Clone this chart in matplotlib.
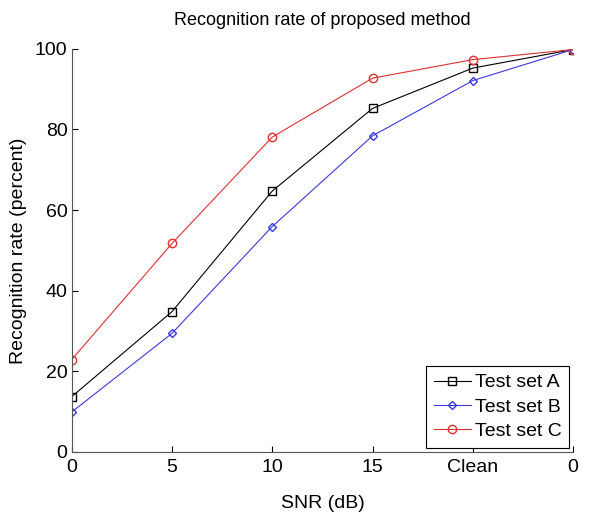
import matplotlib
matplotlib.use("Agg")
import matplotlib.pyplot as plt

plt.rcParams['font.family'] = ['Liberation Sans', 'DejaVu Sans']

# x categories (equally spaced)
snr_labels = ['0', '5', '10', '15', 'Clean', '0']
set_a = [13.7, 34.8, 64.7, 85.2, 95.2, 99.8]
set_b = [9.9, 29.4, 55.9, 78.4, 92.1, 99.8]
set_c = [22.9, 51.7, 78.1, 92.7, 97.3, 99.8]

xs = list(range(len(snr_labels)))

fig = plt.figure(figsize=(5.99, 5.13), dpi=100)
ax = fig.add_axes([0.1197, 0.119, 0.837, 0.786])

ax.plot(xs, set_a, color='black', marker='s', markersize=6, markerfacecolor='none',
        linewidth=0.8, label='Test set A')
ax.plot(xs, set_b, color='#3a3ae0', marker='D', markersize=4, markerfacecolor='none',
        linewidth=0.8, label='Test set B')
ax.plot(xs, set_c, color='#e03030', marker='o', markersize=6, markerfacecolor='none',
        linewidth=0.8, label='Test set C')

ax.set_xlim(0, 5)
ax.set_ylim(0, 100)
ax.set_xticks(xs)
ax.set_xticklabels(snr_labels)
ax.set_yticks([0, 20, 40, 60, 80, 100])
ax.tick_params(direction='in', labelsize=14, length=4, width=0.8, pad=3)
ax.tick_params(axis='x', pad=5)
for s in ['top', 'right']:
    ax.spines[s].set_visible(False)
for s in ['left', 'bottom']:
    ax.spines[s].set_linewidth(0.8)
    ax.spines[s].set_color('#555555')

ax.set_title('Recognition rate of proposed method', fontsize=13, pad=17)
ax.set_xlabel('SNR (dB)', fontsize=14, labelpad=14)
ax.set_ylabel('Recognition rate (percent)', fontsize=14, labelpad=6)

leg = ax.legend(loc='lower right', fontsize=14, fancybox=False, framealpha=1,
                edgecolor='black', borderaxespad=0.2, handlelength=1.9,
                handletextpad=0.2, labelspacing=0.35, borderpad=0.4)
leg.get_frame().set_linewidth(0.8)

fig.savefig('out.png', dpi=100)
